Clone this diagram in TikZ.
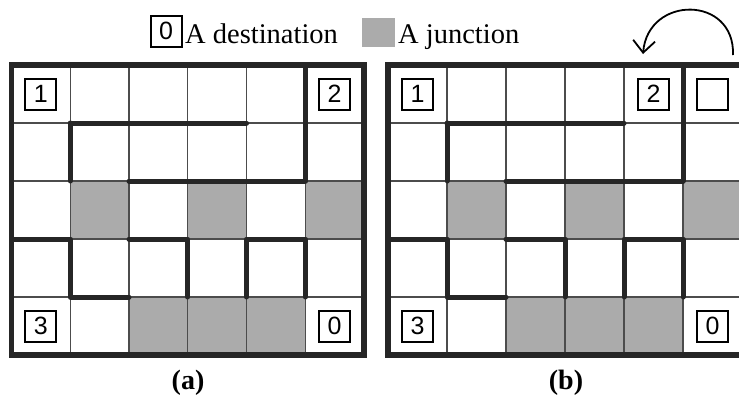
\documentclass[tikz,border=0pt]{standalone}
\usepackage{fontspec}
\setmainfont{Liberation Serif}
\newfontfamily\digitfont{Liberation Sans}
\usetikzlibrary{arrows.meta}
\newcommand\mygridbody{%
  \foreach \c/\r in {1/2,3/2,5/2,2/4,3/4,4/4}
    \fill[junction] (\c,\r) rectangle ++(1,1);
  \foreach \i in {1,...,5} \draw[thinline] (\i,0) -- (\i,5);
  \foreach \j in {1,...,4} \draw[thinline] (0,\j) -- (6,\j);
  \draw[wall] (1,1) -- (4,1);
  \draw[wall] (1,1) -- (1,2);
  \draw[wall] (5,0) -- (5,2);
  \draw[wall] (2,2) -- (5,2);
  \draw[wall] (0,3) -- (1,3) -- (1,4) -- (2,4);
  \draw[wall] (2,3) -- (3,3) -- (3,4);
  \draw[wall] (4,4) -- (4,3) -- (5,3) -- (5,4);
  \draw[border] (0,0) rectangle (6,5);
}
\begin{document}
\begin{tikzpicture}[x=1pt,y=-1pt,
  thinline/.style={line width=1.2pt, draw=black!70},
  wall/.style={line width=5pt, line cap=round, line join=round, draw=black!85},
  border/.style={line width=5.5pt, draw=black!85},
  junction/.style={fill=black!33},
  dest/.style={draw, line width=2pt, minimum width=31pt, minimum height=31pt, inner sep=0pt, font=\digitfont\fontsize{25}{25}\selectfont},
  legtext/.style={anchor=base west, inner sep=0pt, font=\fontsize{28.5}{30}\selectfont},
  caption/.style={font=\bfseries\fontsize{28}{30}\selectfont}
]
\useasboundingbox (0,0) rectangle (739,400);
\clip (0,0) rectangle (739,400);
\fill[white] (0,0) rectangle (739,400);

% legend
\node[dest] (legD) at (166,31) {0};
\node[legtext] (legDt) at (185,43) {A destination};
\node[junction, minimum width=33pt, minimum height=29pt, inner sep=0pt] (legJ) at (378.5,32.5) {};
\node[legtext] (legJt) at (398,43) {A junction};

% grid (a)
\begin{scope}[shift={(11.5,65)}, x=58.75pt, y=-58pt]
  \mygridbody
  \node[dest] (a1) at (0.5,0.5) {1};
  \node[dest] (a2) at (5.5,0.5) {2};
  \node[dest] (a3) at (0.5,4.5) {3};
  \node[dest] (a0) at (5.5,4.5) {0};
\end{scope}

% grid (b)
\begin{scope}[shift={(388,65)}, x=59pt, y=-58pt]
  \mygridbody
  \node[dest] (b1) at (0.5,0.5) {1};
  \node[dest] (b2) at (4.5,0.5) {2};
  \node[dest] (bE) at (5.5,0.5) {};
  \node[dest] (b3) at (0.5,4.5) {3};
  \node[dest] (b0) at (5.5,4.5) {0};
\end{scope}

% rotation arrow
\coordinate (arrS) at (733,55);
\coordinate (arrE) at (643,54);
\draw[line width=1.8pt, -{Straight Barb[length=12pt,width=22pt]}]
  (arrS) .. controls (735,-5) and (648,-5) .. (arrE);

% captions
\node[caption] (capA) at (188,383) {(a)};
\node[caption] (capB) at (566,383) {(b)};
\end{tikzpicture}
\end{document}
